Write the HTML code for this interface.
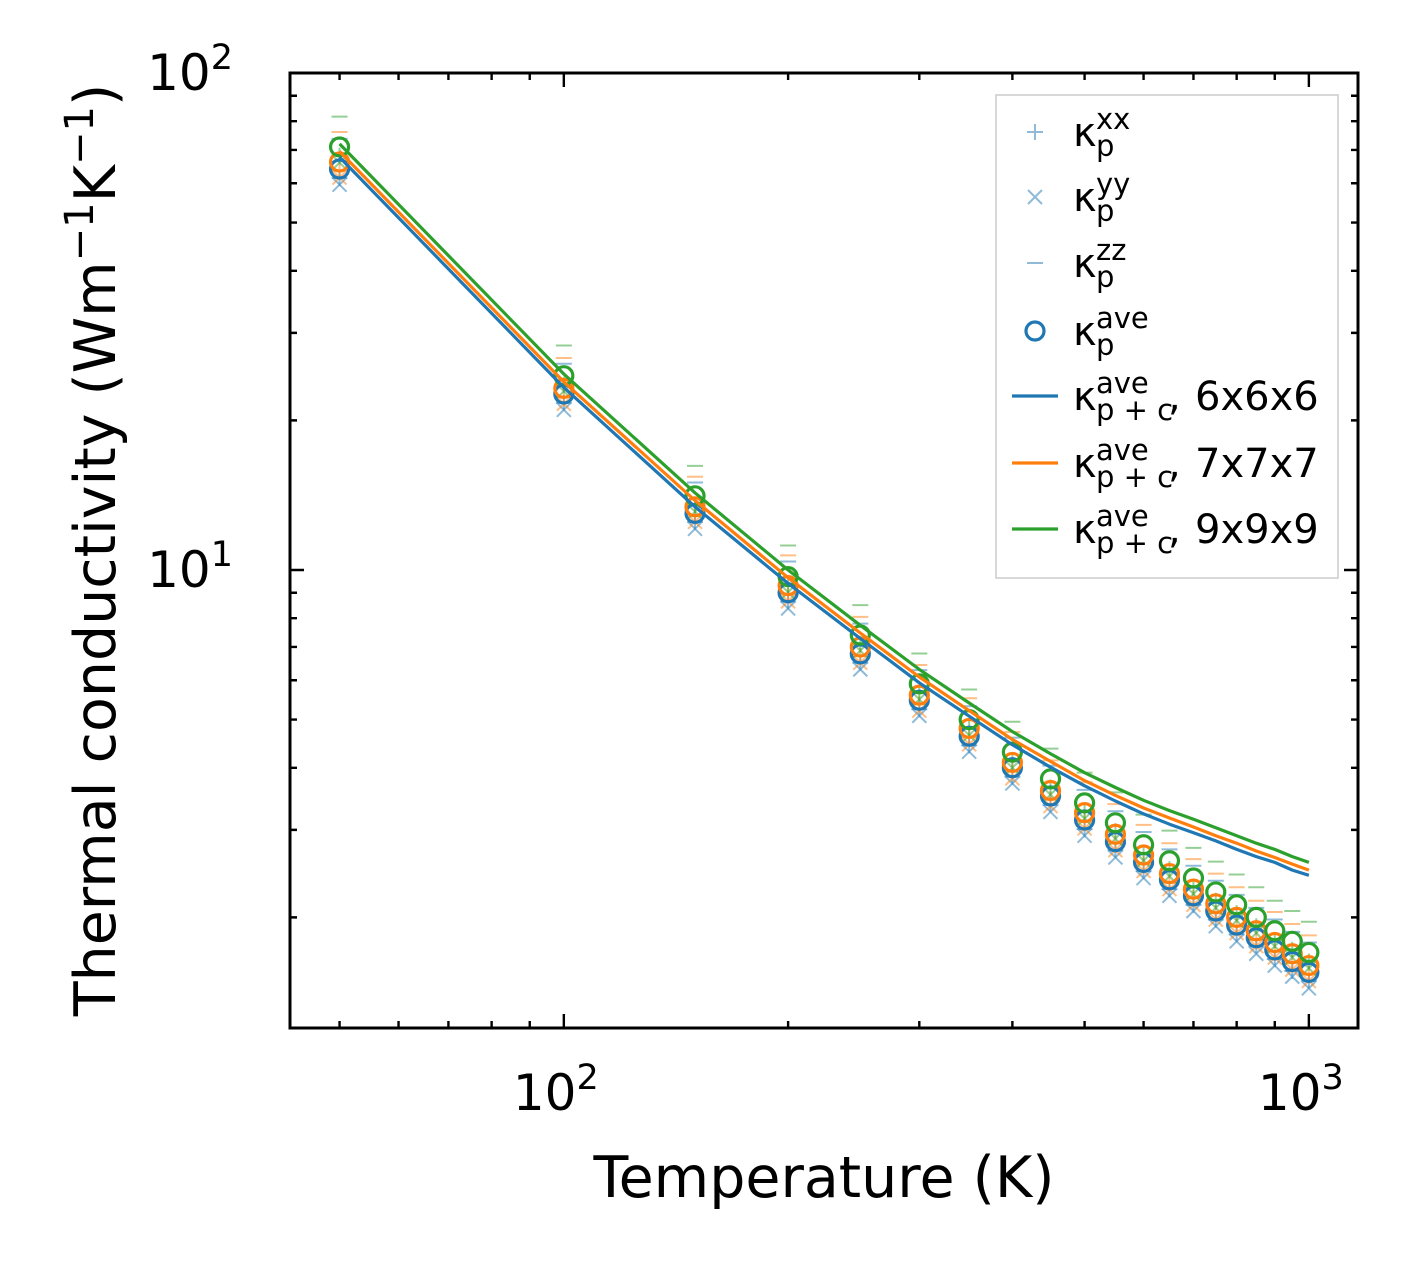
<!DOCTYPE html>
<html><head><meta charset="utf-8"><style>
html,body{margin:0;padding:0;background:#fff}
svg{display:block;font-family:"DejaVu Sans","Liberation Sans",sans-serif}
</style></head><body>
<svg id="chart" width="1420" height="1268" viewBox="0 0 1420 1268" xmlns="http://www.w3.org/2000/svg">
<rect x="0" y="0" width="1420" height="1268" fill="#fff"/>
<g id="marks"></g>
<g id="axes"></g>
<text x="824" y="1197" font-size="57" text-anchor="middle">Temperature (K)</text>
<text transform="translate(115,550) rotate(-90)" font-size="57" text-anchor="middle">Thermal conductivity (Wm<tspan dy="-22" font-size="40">−1</tspan><tspan dy="22">K</tspan><tspan dy="-22" font-size="40">−1</tspan><tspan dy="22">)</tspan></text>
<g id="legend"></g>
</svg>
<script>
const temps=[50,100,150,200,250,300,350,400,450,500,550,600,650,700,750,800,850,900,950,1000];
const aveB=[64.1,22.6,13.0,9.0,6.78,5.47,4.63,4.0,3.51,3.14,2.84,2.58,2.38,2.21,2.06,1.93,1.82,1.72,1.63,1.55];
const aveO=[66.2,23.2,13.4,9.3,7.0,5.6,4.8,4.1,3.6,3.25,2.94,2.67,2.45,2.28,2.13,2.0,1.88,1.78,1.69,1.6];
const aveG=[71,24.6,14.1,9.7,7.4,5.9,5.0,4.3,3.8,3.4,3.1,2.8,2.6,2.4,2.25,2.12,2.0,1.88,1.79,1.7];
const zzB=[73.7,26.0,15.0,10.4,7.8,6.29,5.32,4.6,4.04,3.61,3.27,2.97,2.74,2.54,2.37,2.22,2.09,1.98,1.87,1.78];
const zzO=[76.1,26.7,15.4,10.7,8.05,6.44,5.52,4.72,4.14,3.74,3.38,3.07,2.82,2.62,2.45,2.3,2.16,2.05,1.94,1.84];
const zzG=[81.7,28.3,16.2,11.2,8.5,6.79,5.75,4.95,4.37,3.91,3.57,3.22,2.99,2.76,2.59,2.44,2.3,2.16,2.06,1.96];
const yyB=[59.6,21.0,12.1,8.37,6.31,5.09,4.31,3.72,3.26,2.92,2.64,2.4,2.21,2.06,1.92,1.79,1.69,1.6,1.52,1.44];
const yyO=[61.6,21.6,12.5,8.65,6.51,5.21,4.46,3.81,3.35,3.02,2.73,2.48,2.28,2.12,1.98,1.86,1.75,1.66,1.57,1.49];
const yyG=[66.0,22.9,13.1,9.02,6.88,5.49,4.65,4.0,3.53,3.16,2.88,2.6,2.42,2.23,2.09,1.97,1.86,1.75,1.66,1.58];
const xxB=[61.5,21.7,12.5,8.64,6.51,5.25,4.44,3.84,3.37,3.01,2.73,2.48,2.28,2.12,1.98,1.85,1.75,1.65,1.56,1.49];
const xxO=[63.6,22.3,12.9,8.93,6.72,5.38,4.61,3.94,3.46,3.12,2.82,2.56,2.35,2.19,2.04,1.92,1.8,1.71,1.62,1.54];
const xxG=[68.2,23.6,13.5,9.31,7.1,5.66,4.8,4.13,3.65,3.26,2.98,2.69,2.5,2.3,2.16,2.04,1.92,1.8,1.72,1.63];
const lineB=[67.7,23.3,13.4,9.4,7.28,5.93,5.08,4.45,4.01,3.68,3.43,3.23,3.08,2.96,2.85,2.74,2.65,2.58,2.49,2.43];
const lineO=[69.5,23.9,13.8,9.65,7.47,6.09,5.21,4.56,4.12,3.77,3.52,3.32,3.17,3.04,2.92,2.82,2.72,2.64,2.56,2.49];
const lineG=[72,24.8,14.3,10.0,7.74,6.31,5.40,4.73,4.27,3.91,3.65,3.44,3.28,3.15,3.03,2.92,2.82,2.74,2.65,2.58];
const xTickLabels=["10","10"];const xTickExp=["2","3"];const xTickVals=[100,1000];
const yTickVals=[10,100];const yTickExp=["1","2"];

const NS="http://www.w3.org/2000/svg";
const L=290,R=1358,T=73,B=1028;
const xmin=Math.log10(42.9),xmax=Math.log10(1164),ymin=Math.log10(1.198),ymax=2;
const xs=v=>L+(Math.log10(v)-xmin)/(xmax-xmin)*(R-L);
const ys=v=>B-(Math.log10(v)-ymin)/(ymax-ymin)*(B-T);
function mk(tag,attrs,parent){const e=document.createElementNS(NS,tag);for(const k in attrs)e.setAttribute(k,attrs[k]);parent.appendChild(e);return e;}
const marks=document.getElementById('marks'),axes=document.getElementById('axes'),leg=document.getElementById('legend');
const C={B:'#1f77b4',O:'#ff7f0e',G:'#2ca02c'};
const sets=[['B',xxB,yyB,zzB,aveB,lineB],['O',xxO,yyO,zzO,aveO,lineO],['G',xxG,yyG,zzG,aveG,lineG]];
function plus(g,x,y,c,s){mk('path',{d:`M${x-s} ${y}H${x+s}M${x} ${y-s}V${y+s}`,stroke:c,'stroke-width':2,fill:'none','stroke-opacity':0.5},g);}
function cross(g,x,y,c,s){mk('path',{d:`M${x-s} ${y-s}L${x+s} ${y+s}M${x-s} ${y+s}L${x+s} ${y-s}`,stroke:c,'stroke-width':2,fill:'none','stroke-opacity':0.5},g);}
function dash(g,x,y,c,s){mk('path',{d:`M${x-s} ${y}H${x+s}`,stroke:c,'stroke-width':2,fill:'none','stroke-opacity':0.5},g);}
sets.forEach(([k,xx,yy,zz])=>{
  const g=mk('g',{},marks);
  
  
  temps.forEach((t,i)=>{const x=xs(t);plus(g,x,ys(xx[i]),C[k],8);cross(g,x,ys(yy[i]),C[k],7);dash(g,x,ys(zz[i]),C[k],8);});
});
sets.forEach(([k,,,,ave])=>{
  const g=mk('g',{},marks);
  
  
  temps.forEach((t,i)=>{mk('circle',{cx:xs(t),cy:ys(ave[i]),r:9,fill:'none',stroke:C[k],'stroke-width':3.2},g);});
});
sets.forEach(([k,,,,,ln])=>{
  const p=mk('path',{d:temps.map((t,i)=>(i?'L':'M')+xs(t).toFixed(1)+' '+ys(ln[i]).toFixed(1)).join(''),fill:'none',stroke:C[k],'stroke-width':3.2,'stroke-linejoin':'round'},marks);
  
  
});
const fr=mk('rect',{x:L,y:T,width:R-L,height:B-T,fill:'none',stroke:'#000','stroke-width':3},axes);


let d='';
for(let dec=1;dec<=3;dec++)for(let m=1;m<10;m++){const v=m*Math.pow(10,dec);const x=xs(v);if(x<L||x>R)continue;const len=m===1?14:7;d+=`M${x} ${B}V${B-len}M${x} ${T}V${T+len}`;}
for(let dec=0;dec<=2;dec++)for(let m=1;m<10;m++){const v=m*Math.pow(10,dec);const y=ys(v);if(y<T-0.5||y>B)continue;const len=m===1?14:7;d+=`M${L} ${y}H${L+len}M${R} ${y}H${R-len}`;}
const tk=mk('path',{d:d,stroke:'#000','stroke-width':2.4,fill:'none'},axes);


xTickVals.forEach((v,i)=>{const t=mk('text',{x:xs(v)-8,y:1110,'font-size':50,'text-anchor':'middle'},axes);t.textContent=xTickLabels[i];const s=mk('tspan',{dy:-21,'font-size':35},t);s.textContent=xTickExp[i];
 
 });
yTickVals.forEach((v,i)=>{const t=mk('text',{x:233,y:ys(v)+17,'font-size':50,'text-anchor':'end'},axes);t.textContent='10';const s=mk('tspan',{dy:-21,'font-size':35},t);s.textContent=yTickExp[i];
 
 });
const lb=mk('rect',{x:996,y:95,width:342,height:483,fill:'#fff',stroke:'#ccc','stroke-width':1.5},leg);


const entries=[['plus','xx','p',''],['cross','yy','p',''],['dash','zz','p',''],['circ','ave','p',''],['line','ave','p + c',',','6x6x6','B'],['line','ave','p + c',',','7x7x7','O'],['line','ave','p + c',',','9x9x9','G']];
const ey=[132,197,263,331,396,463,529];
entries.forEach((e,i)=>{
  const g=mk('g',{},leg);
  
  
  const y=ey[i],x=1035;
  if(e[0]==='plus')plus(g,x,y,C.B,8);
  if(e[0]==='cross')cross(g,x,y,C.B,7);
  if(e[0]==='dash')dash(g,x,y,C.B,8);
  if(e[0]==='circ')mk('circle',{cx:x,cy:y,r:9,fill:'none',stroke:C.B,'stroke-width':3.2},g);
  if(e[0]==='line')mk('path',{d:`M${x-23} ${y}H${x+23}`,stroke:C[e[5]],'stroke-width':3.2},g);
  const t=mk('text',{x:1073,y:y+14,'font-size':40},g);
  t.textContent='κ';
  const sup=mk('text',{x:1096,y:y-3,'font-size':29},g);sup.textContent=e[1];
  const sub=mk('text',{x:1096,y:y+24,'font-size':29},g);sub.textContent=e[2];
  if(e[3]){const c=mk('text',{x:1168,y:y+14,'font-size':40},g);c.textContent=e[3];
    const r=mk('text',{x:1195,y:y+14,'font-size':40},g);r.textContent=e[4];}
});
</script>
</body></html>
